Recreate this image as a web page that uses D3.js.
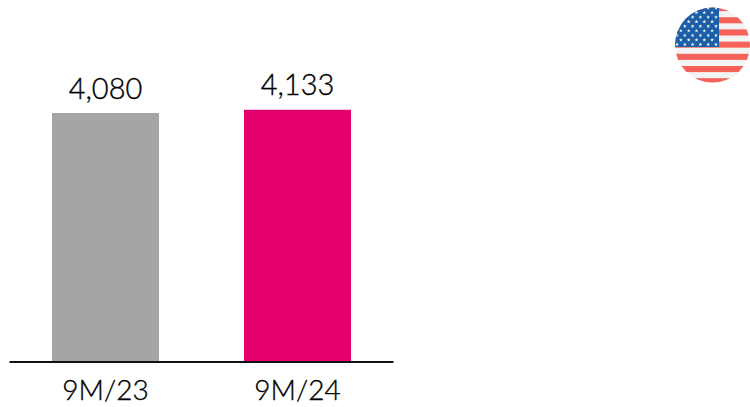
<!DOCTYPE html>
<html>
<head>
<meta charset="utf-8">
<script src="https://cdn.jsdelivr.net/npm/d3@7"></script>
<style>
html,body{margin:0;padding:0;background:#fff;overflow:hidden}
text{font-family:"Lato",sans-serif;font-weight:300;fill:#000;stroke:#000;stroke-width:0.35px}
</style>
</head>
<body>
<svg id="c" width="750" height="407"></svg>
<script>
const categories = ["9M/23", "9M/24"];
const values = [4080, 4133];
const valueLabels = ["4,080", "4,133"];
const barColors = ["#a5a5a5", "#e5006d"];
const flagStripes = [0,1,2,3,4,5,6,7,8,9,10,11,12];
const flagStarRows = [0,1,2,3,4,5,6,7,8];
const flagStarCols = [0,1,2,3,4,5];

const svg = d3.select("#c");
const x = d3.scaleBand().domain(categories).range([9, 393]).paddingInner(85/192).paddingOuter(42.5/192).align(43/85);
const y = d3.scaleLinear().domain([0, 4080]).range([361.5, 113]);

svg.selectAll("rect.bar").data(categories).join("rect").attr("class","bar")
  .attr("x", d => x(d)).attr("width", x.bandwidth())
  .attr("y", (d,i) => y(values[i])).attr("height", (d,i) => y(0) - y(values[i]))
  .attr("fill", (d,i) => barColors[i]);

const axis = svg.append("g").attr("transform", `translate(0,${y(0)})`)
  .call(d3.axisBottom(x).tickSize(0).tickPadding(19));
axis.select(".domain").attr("stroke","#111").attr("stroke-width",2);
axis.selectAll("text").attr("font-size",28).attr("font-family",null).style("font-family",'"Lato",sans-serif');

svg.selectAll("text.val").data(categories).join("text").attr("class","val")
  .attr("x", d => x(d) + x.bandwidth()/2)
  .attr("y", (d,i) => y(values[i]) - 14.5)
  .attr("text-anchor","middle").attr("font-size",29)
  .text((d,i) => valueLabels[i]);

// flag
const defs = svg.append("defs");
defs.append("clipPath").attr("id","fc").append("circle").attr("cx",712.5).attr("cy",45).attr("r",37.5);
const flag = svg.append("g").attr("clip-path","url(#fc)");
const sy = d3.scaleBand().domain(flagStripes).range([5,84.3]);
flag.append("rect").attr("x",675).attr("y",7).attr("width",75).attr("height",76).attr("fill","#f3f3f3");
flag.selectAll("rect.s").data(flagStripes.filter(d => d%2===0)).join("rect").attr("class","s")
  .attr("x",675).attr("width",75).attr("y",d=>sy(d)).attr("height",sy.bandwidth()).attr("fill","#f6625a");
flag.append("rect").attr("x",675).attr("y",7).attr("width",44).attr("height",40).attr("fill","#1a5ea8");
const starX = d3.scalePoint().domain(flagStarCols).range([677,716]);
const starY = d3.scalePoint().domain(flagStarRows).range([8,44.5]);
const star = d3.symbol().type(d3.symbolStar).size(5)();
flagStarRows.forEach(r => {
  flag.selectAll(null).data(flagStarCols).join("path").attr("d",star).attr("fill","#f3f3f3")
    .attr("transform", c => `translate(${starX(c) - (r%2 ? 3.9 : 0)},${starY(r)})`);
});
</script>
</body>
</html>
